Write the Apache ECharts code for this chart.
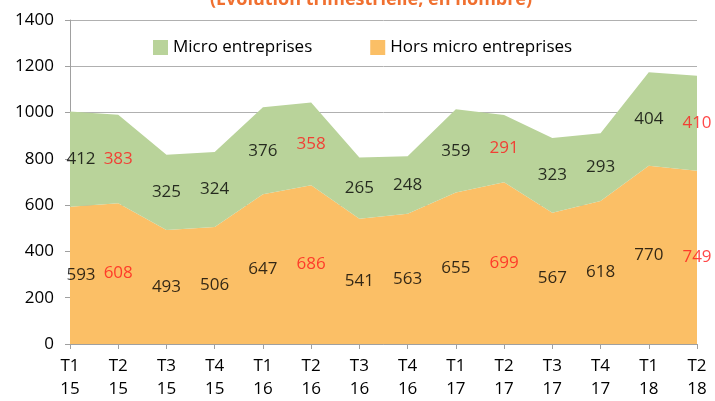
<!DOCTYPE html>
<html>
<head>
<meta charset="utf-8">
<script src="https://cdn.jsdelivr.net/npm/echarts@6/dist/echarts.min.js"></script>
<style>html,body{margin:0;padding:0;background:#fff;}</style>
</head>
<body>
<div id="main" style="width:715px;height:401px;"></div>
<script type="text/javascript">
var quarters = ['T1\n15','T2\n15','T3\n15','T4\n15','T1\n16','T2\n16','T3\n16','T4\n16','T1\n17','T2\n17','T3\n17','T4\n17','T1\n18','T2\n18'];
var horsMicro = [593,608,493,506,647,686,541,563,655,699,567,618,770,749];
var micro = [412,383,325,324,376,358,265,248,359,291,323,293,404,410];
var yTicks = [0,200,400,600,800,1000,1200,1400];

// etiquettes au milieu de chaque zone, les T2 en rouge
function labelStyle(i) {
    return { color: i % 4 === 1 ? '#ff1a1a' : '#000', offset: i === 0 ? [11, 0] : [0, 0] };
}
var horsLabels = horsMicro.map(function (v, i) {
    return { value: [i, v / 2], raw: v, label: labelStyle(i) };
});
var microLabels = micro.map(function (v, i) {
    return { value: [i, horsMicro[i] + v / 2], raw: v, label: labelStyle(i) };
});

var myChart = echarts.init(document.getElementById('main'));
var font = '"Open Sans", sans-serif';
var option = {
    animation: false,
    textStyle: { fontFamily: font },
    title: {
        text: '(Evolution trimestrielle, en nombre)',
        left: 366, textAlign: 'center', top: -14,
        textStyle: { color: '#f07030', fontSize: 18, fontWeight: 'bold', fontFamily: font }
    },
    legend: {
        data: ['Micro entreprises', 'Hors micro entreprises'],
        top: 34, left: 148,
        itemWidth: 15, itemHeight: 15, itemGap: 58,
        icon: 'rect',
        textStyle: { fontSize: 17, color: '#000', fontFamily: font }
    },
    grid: { left: 70, right: 18, top: 20, bottom: 55 },
    xAxis: {
        type: 'category',
        boundaryGap: false,
        data: quarters,
        axisLine: { lineStyle: { color: '#a0a0a0' } },
        axisTick: { show: true, length: 5, lineStyle: { color: '#a0a0a0' } },
        axisLabel: { color: '#000', fontSize: 17, lineHeight: 23, margin: 11, interval: 0 }
    },
    yAxis: {
        type: 'value',
        min: 0, max: 1400, interval: 200,
        axisLine: { show: true, lineStyle: { color: '#a0a0a0' } },
        axisTick: { show: true, length: 5, lineStyle: { color: '#a0a0a0' } },
        splitLine: { lineStyle: { color: '#b0b0b0' } },
        axisLabel: { color: '#000', fontSize: 17, margin: 16,
            formatter: function (v) { return yTicks.indexOf(v) >= 0 ? String(v) : ''; } }
    },
    series: [
        {
            name: 'Hors micro entreprises', type: 'line', stack: 'total',
            data: horsMicro, symbol: 'none', lineStyle: { width: 0 },
            itemStyle: { color: '#fbbf66' },
            areaStyle: { color: '#fbbf66', opacity: 1 }
        },
        {
            name: 'Micro entreprises', type: 'line', stack: 'total',
            data: micro, symbol: 'none', lineStyle: { width: 0 },
            itemStyle: { color: '#b9d39a' },
            areaStyle: { color: '#b9d39a', opacity: 1 }
        },
        {
            type: 'scatter', data: horsLabels.concat(microLabels), symbolSize: 0,
            silent: true, z: 5,
            label: { show: true, position: 'inside', fontSize: 17, fontFamily: font,
                formatter: function (p) { return p.data.raw; } }
        }
    ]
};
myChart.setOption(option);
</script>
</body>
</html>
